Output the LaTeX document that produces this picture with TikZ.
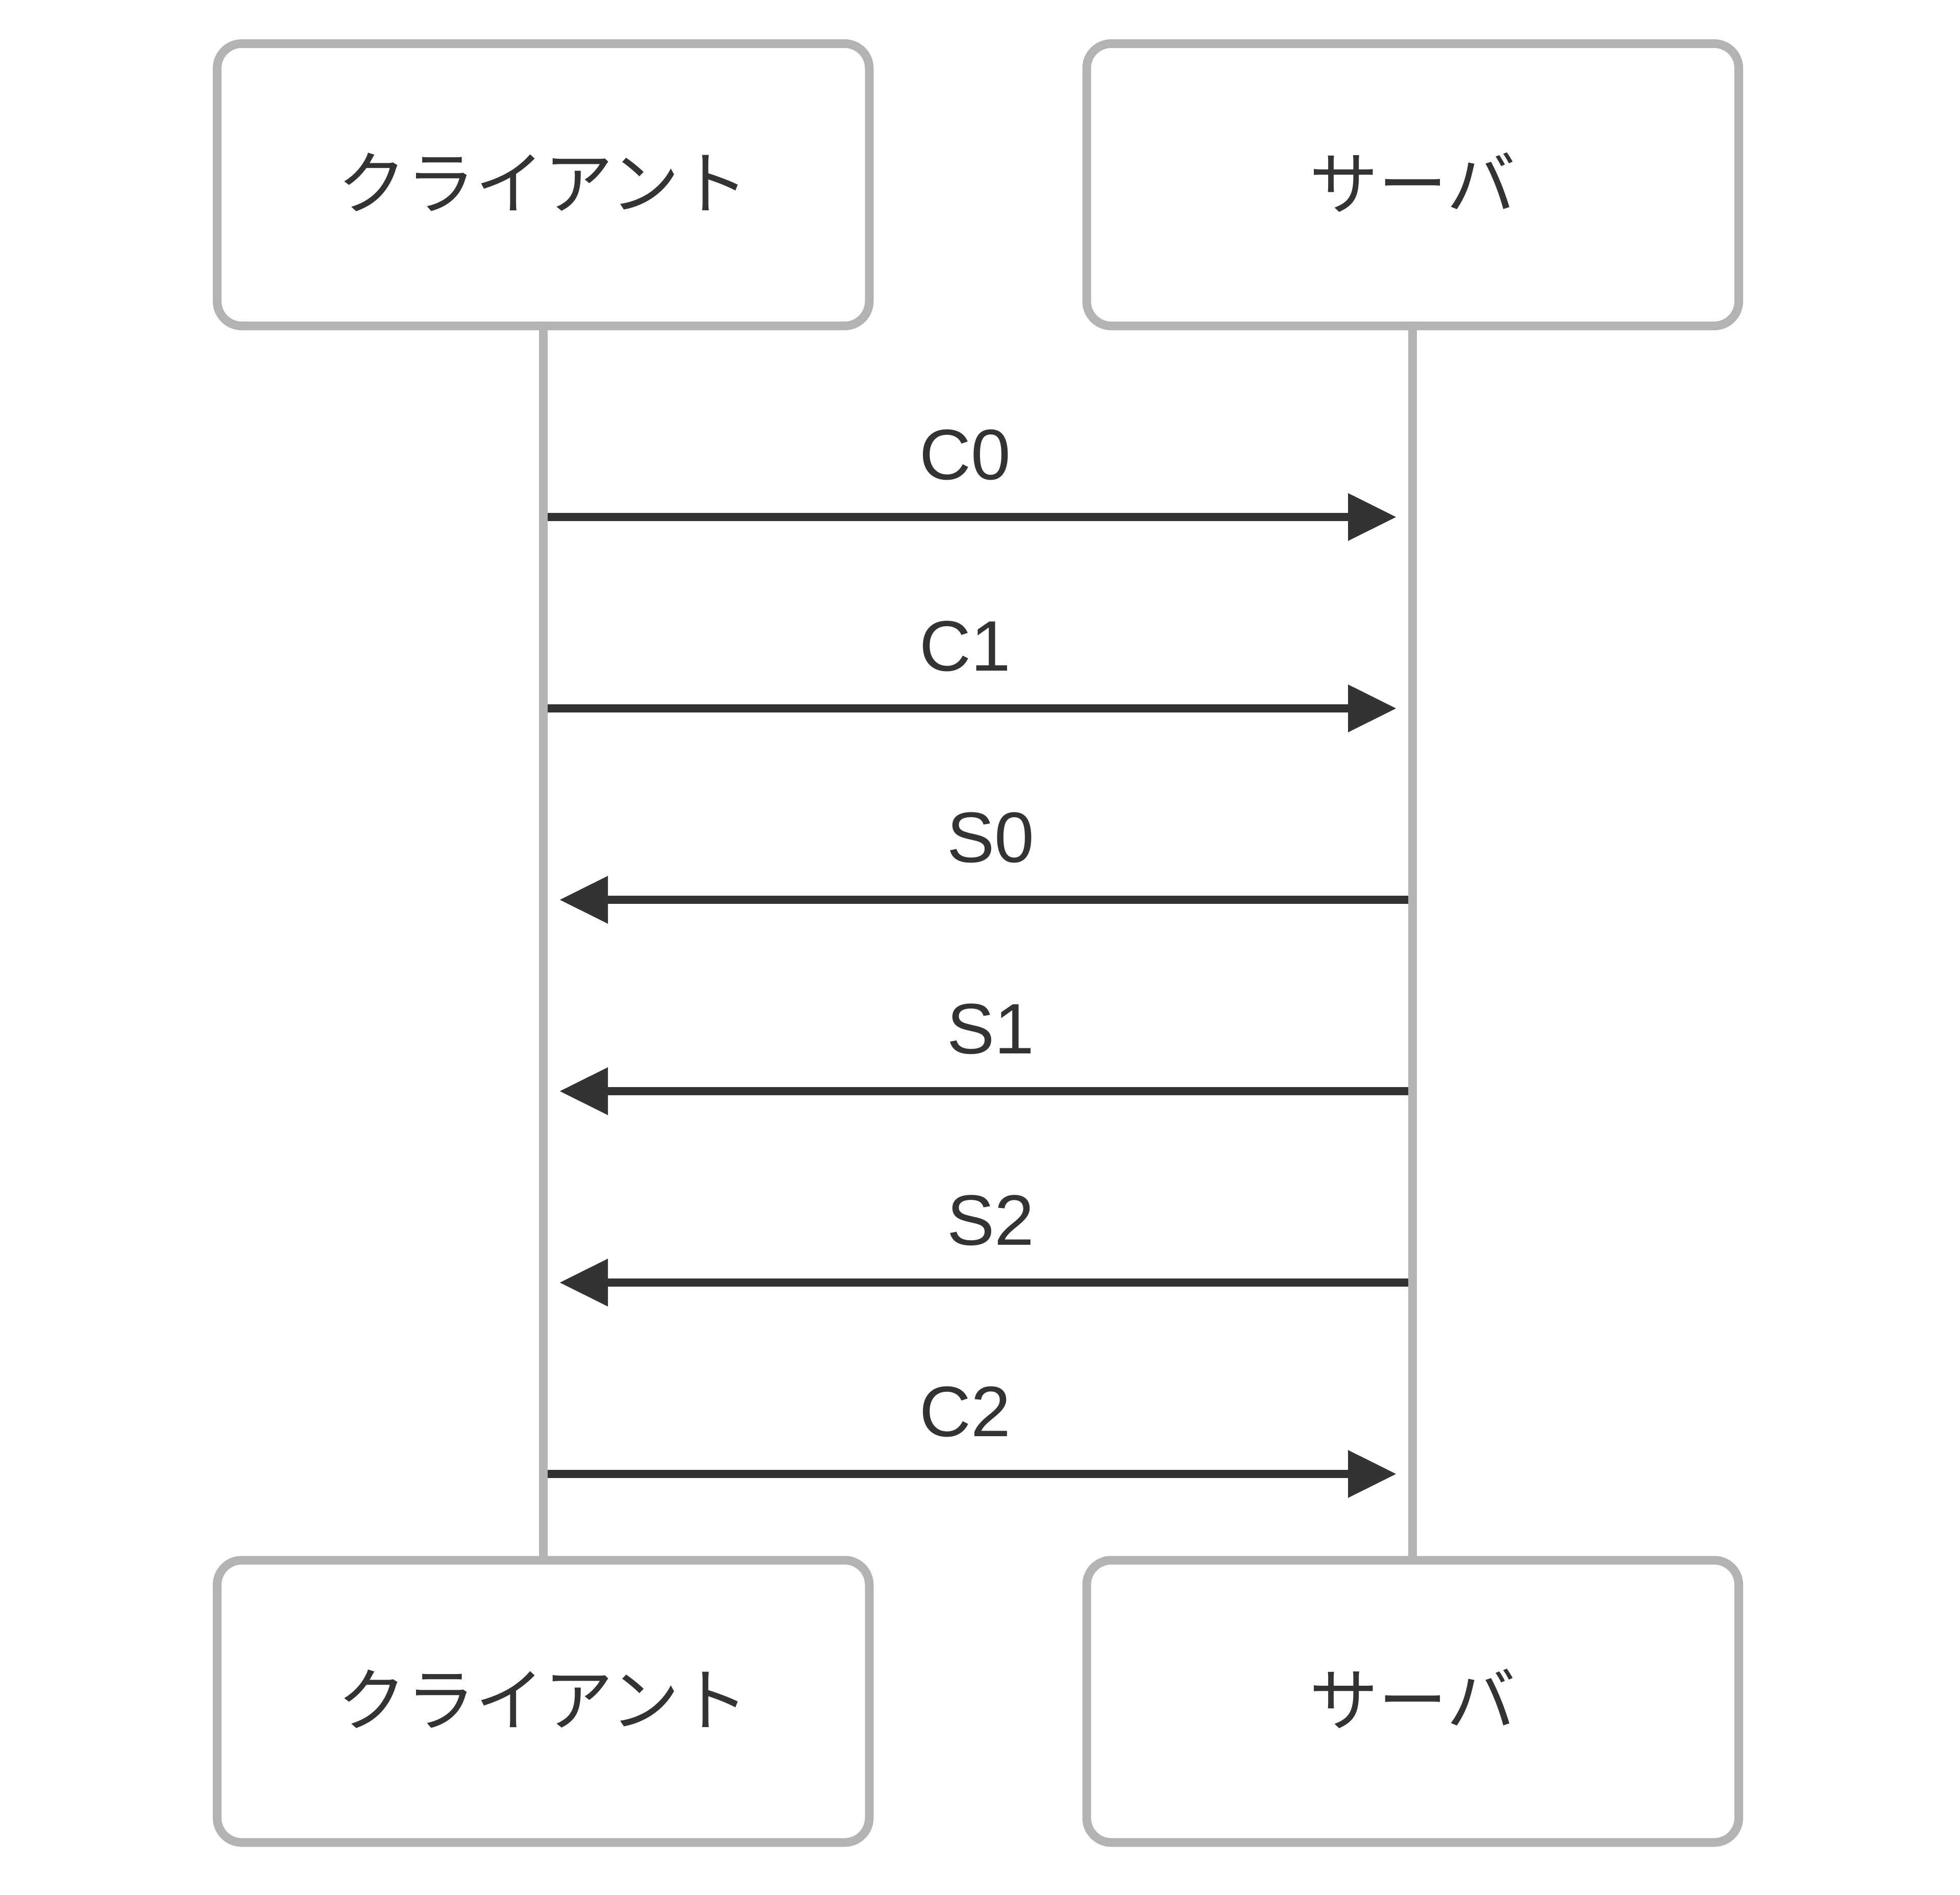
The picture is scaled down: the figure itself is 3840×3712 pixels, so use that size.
\documentclass[tikz,border=0pt]{standalone}
\usepackage{fontspec}
\setmainfont{Liberation Sans}
\newfontfamily\jpfont{Noto Sans CJK JP}
\usetikzlibrary{arrows.meta}
\definecolor{bordergray}{HTML}{B3B3B3}
\definecolor{inkgray}{HTML}{333333}
\begin{document}
\begin{tikzpicture}[x=0.2pt,y=-0.2pt,
  actorbox/.style={draw=bordergray, line width=3.4pt, fill=white, rounded corners=9.6pt,
    minimum width=255.5pt, minimum height=110.6pt, inner sep=0pt, outer sep=0pt,
    text=inkgray, font=\jpfont\fontsize{27pt}{33pt}\selectfont},
  lifeline/.style={draw=bordergray, line width=3.4pt},
  msg/.style={draw=inkgray, line width=3.3pt, -{Triangle[length=19pt,width=17.8pt]}},
  msglabel/.style={anchor=base, inner sep=0pt, text=inkgray, font=\fontsize{28pt}{34pt}\selectfont}
]
\useasboundingbox (0,0) rectangle (3840,3712);
\fill[white] (0,0) rectangle (3840,3712);

% actor boxes
\node[actorbox] (clientTop) at (1064.25,362) {\raisebox{1pt}[\height][\depth]{クライアント}};
\node[actorbox] (serverTop) at (2767.75,362) {\raisebox{1pt}[\height][\depth]{サーバ}};
\node[actorbox] (clientBot) at (1064.25,3333.5) {\raisebox{1pt}[\height][\depth]{クライアント}};
\node[actorbox] (serverBot) at (2767.75,3333.5) {\raisebox{1pt}[\height][\depth]{サーバ}};

% message end points
\coordinate (c0s) at (1064,1013); \coordinate (c0e) at (2736,1013);
\coordinate (c1s) at (1064,1388); \coordinate (c1e) at (2736,1388);
\coordinate (s0s) at (2768,1763); \coordinate (s0e) at (1096,1763);
\coordinate (s1s) at (2768,2138); \coordinate (s1e) at (1096,2138);
\coordinate (s2s) at (2768,2513); \coordinate (s2e) at (1096,2513);
\coordinate (c2s) at (1064,2888); \coordinate (c2e) at (2736,2888);

\draw[msg] (c0s) -- (c0e);
\draw[msg] (c1s) -- (c1e);
\draw[msg] (s0s) -- (s0e);
\draw[msg] (s1s) -- (s1e);
\draw[msg] (s2s) -- (s2e);
\draw[msg] (c2s) -- (c2e);

% lifelines
\draw[lifeline] (clientTop.south) -- (clientBot.north);
\draw[lifeline] (serverTop.south) -- (serverBot.north);

% labels
\node[msglabel] (lc0) at (1891,939) {C0};
\node[msglabel] (lc1) at (1891,1314) {C1};
\node[msglabel] (ls0) at (1941,1689) {S0};
\node[msglabel] (ls1) at (1941,2064) {S1};
\node[msglabel] (ls2) at (1941,2439) {S2};
\node[msglabel] (lc2) at (1891,2814) {C2};
\end{tikzpicture}
\end{document}
